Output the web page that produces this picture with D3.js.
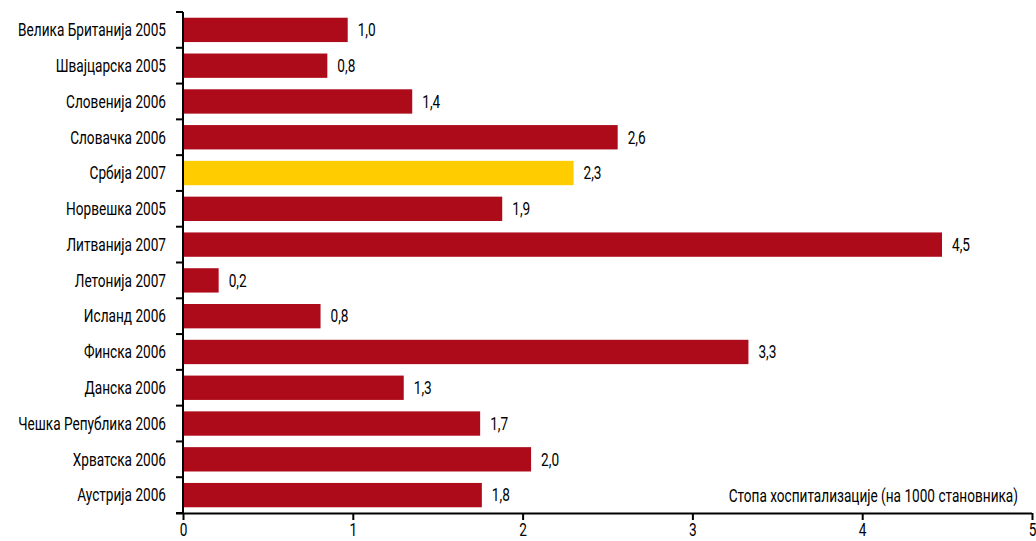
<!DOCTYPE html>
<html>
<head>
<meta charset="utf-8">
<script src="https://cdn.jsdelivr.net/npm/d3@7"></script>
<style>
body{margin:0;background:#fff;}
text{font-family:Roboto,"DejaVu Sans Condensed",sans-serif;}
</style>
</head>
<body>
<div class="canvas"></div>
<script>
const countries=["Велика Британија 2005","Швајцарска 2005","Словенија 2006","Словачка 2006","Србија 2007","Норвешка 2005","Литванија 2007","Летонија 2007","Исланд 2006","Финска 2006","Данска 2006","Чешка Република 2006","Хрватска 2006","Аустрија 2006"];
const rates=[0.97,0.85,1.35,2.56,2.30,1.88,4.47,0.21,0.81,3.33,1.30,1.75,2.05,1.76];
const rateLabels=["1,0","0,8","1,4","2,6","2,3","1,9","4,5","0,2","0,8","3,3","1,3","1,7","2,0","1,8"];
const xTicks=[0,1,2,3,4,5];
const highlight="Србија 2007";
const axisTitle="Стопа хоспитализације (на 1000 становника)";

const width=1036,height=541;
const margin={top:12,right:4,bottom:28,left:183};
const fs=18;

const svg=d3.select(".canvas").append("svg")
  .attr("width",width).attr("height",height);

// squeeze factor so the text looks like the narrow font of the original
const probe=svg.append("text").attr("font-size",fs).text(countries[0]);
const k=148/probe.node().getComputedTextLength();
probe.remove();

function label(g,tx,ty,str,anchor){
  return g.append("text")
    .attr("transform",`translate(${tx},${ty}) scale(${k},1)`)
    .attr("dy","0.35em")
    .attr("text-anchor",anchor)
    .attr("font-size",fs)
    .attr("fill","#000")
    .text(str);
}

const x=d3.scaleLinear().domain([0,5]).range([margin.left,width-margin.right]);
const y=d3.scaleBand().domain(countries)
  .range([margin.top,height-margin.bottom])
  .paddingInner(0.32).paddingOuter(0.16);

svg.selectAll("rect.bar")
  .data(countries)
  .enter()
  .append("rect")
  .attr("class","bar")
  .attr("x",x(0))
  .attr("y",d=>y(d))
  .attr("width",(d,i)=>x(rates[i])-x(0))
  .attr("height",y.bandwidth())
  .attr("fill",d=>d===highlight?"#FFCC00":"#AD0B1A");

const vals=svg.append("g");
countries.forEach((d,i)=>{
  label(vals,x(rates[i])+10,y(d)+y.bandwidth()/2,rateLabels[i],"start");
});

// y axis: line plus ticks at category boundaries
const yAx=svg.append("g").attr("id","y-axis");
const step=y.step();
const bounds=d3.range(countries.length+1).map(i=>margin.top+i*step);
yAx.append("line")
  .attr("x1",x(0)).attr("x2",x(0))
  .attr("y1",margin.top).attr("y2",height-margin.bottom)
  .attr("stroke","#000").attr("stroke-width",2);
yAx.selectAll("line.tk")
  .data(bounds)
  .enter()
  .append("line")
  .attr("class","tk")
  .attr("x1",x(0)-7).attr("x2",x(0))
  .attr("y1",d=>d).attr("y2",d=>d)
  .attr("stroke","#000").attr("stroke-width",2);
countries.forEach(d=>{
  label(yAx,x(0)-17,y(d)+y.bandwidth()/2,d,"end");
});

const xAxis=d3.axisBottom(x).tickValues(xTicks).tickFormat(d3.format("d"))
  .tickSizeInner(7).tickSizeOuter(0).tickPadding(3);
const xg=svg.append("g")
  .attr("id","x-axis")
  .attr("transform",`translate(0,${height-margin.bottom})`)
  .call(xAxis);
xg.select(".domain").attr("stroke","#000").attr("stroke-width",2)
  .attr("d",`M${x(0)-7},0.5H${x(5)}`);
xg.selectAll(".tick line").attr("stroke","#000").attr("stroke-width",2);
xg.selectAll(".tick text").attr("font-size",fs).attr("fill","#000")
  .attr("transform",`scale(${k},1)`)
  .style("font-family","Roboto,'DejaVu Sans Condensed',sans-serif");

label(svg,1018,height-margin.bottom-17,axisTitle,"end");
</script>
</body>
</html>
